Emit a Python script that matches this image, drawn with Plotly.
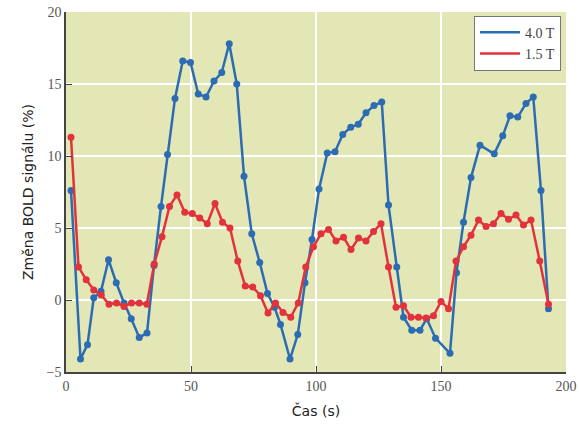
import plotly.graph_objects as go

# time axis (s)
t_red = [2, 5, 8.1, 11.1, 14.1, 17.2, 20.2, 23.2, 26.2, 29.3, 32.3, 35.3, 38.4, 41.4, 44.4, 47.5,
         50.5, 53.5, 56.5, 59.6, 62.6, 65.6, 68.7, 71.7, 74.7, 77.8, 80.8, 83.8, 86.8, 89.9, 92.9, 95.9,
         99, 102, 105, 108, 111, 114, 117, 120, 123, 126, 129, 132, 135, 138, 141, 144,
         147, 150, 153, 156, 159, 162, 165, 168, 171, 174, 177, 180, 183, 186, 189.5, 193]
sig_15T = [11.3, 2.3, 1.4, 0.7, 0.35, -0.3, -0.2, -0.45, -0.2, -0.2, -0.3, 2.5, 4.4, 6.5, 7.3, 6.1,
           6.0, 5.7, 5.3, 6.7, 5.4, 5.0, 2.7, 0.97, 0.9, 0.3, -0.9, -0.2, -0.86, -1.2, -0.2, 2.3,
           3.7, 4.6, 4.9, 4.1, 4.35, 3.5, 4.3, 4.1, 4.75, 5.3, 2.3, -0.5, -0.4, -1.2, -1.2, -1.25,
           -1.1, -0.1, -0.6, 2.7, 3.7, 4.5, 5.55, 5.1, 5.3, 6.0, 5.6, 5.9, 5.2, 5.55, 2.7, -0.3]

t_blue = [2, 5.8, 8.6, 11.1, 14, 17, 20.1, 23.2, 26.1, 29.3, 32.4, 35.2, 38, 40.6, 43.6, 46.7,
          49.8, 52.9, 56, 59.2, 62.3, 65.3, 68.3, 71.2, 74.3, 77.5, 80.6, 83.4, 85.8, 89.6, 92.7, 95.6,
          98.4, 101.2, 104.5, 107.6, 110.7, 113.9, 116.9, 120, 123.2, 126.3, 129, 132.3, 135, 138.3, 141.6, 144.3,
          147.8, 153.6, 156.2, 159, 162, 165.6, 171.3, 174.7, 177.6, 180.7, 184, 186.9, 190, 193]
sig_40T = [7.6, -4.1, -3.1, 0.15, 0.6, 2.8, 1.2, -0.2, -1.3, -2.6, -2.3, 2.4, 6.5, 10.1, 14.0, 16.6,
           16.5, 14.3, 14.1, 15.2, 15.8, 17.8, 15.0, 8.6, 4.6, 2.6, 0.45, -0.5, -1.7, -4.1, -2.4, 1.2,
           4.2, 7.7, 10.2, 10.3, 11.5, 12.0, 12.2, 13.0, 13.5, 13.75, 6.6, 2.3, -1.2, -2.1, -2.1, -1.3,
           -2.65, -3.7, 1.9, 5.4, 8.5, 10.75, 10.15, 11.4, 12.8, 12.7, 13.65, 14.1, 7.6, -0.6]

x_ticks = [0, 50, 100, 150, 200]
y_ticks = [-5, 0, 5, 10, 15, 20]

BLUE = "#2b6cb3"
RED = "#e2323c"

fig = go.Figure()
fig.add_trace(go.Scatter(x=t_blue, y=sig_40T, mode="lines+markers", showlegend=False,
                         line=dict(color=BLUE, width=2.5), marker=dict(color=BLUE, size=7)))
fig.add_trace(go.Scatter(x=t_red, y=sig_15T, mode="lines+markers", showlegend=False,
                         line=dict(color=RED, width=2.5), marker=dict(color=RED, size=7)))
fig.add_trace(go.Scatter(x=[None], y=[None], mode="lines", name="4.0 T",
                         line=dict(color=BLUE, width=2.5)))
fig.add_trace(go.Scatter(x=[None], y=[None], mode="lines", name="1.5 T",
                         line=dict(color=RED, width=2.5)))

tickfont = dict(family="Liberation Serif", size=14, color="#555555")
titlefont = dict(family="DejaVu Sans", size=14, color="#222222")

fig.update_layout(
    width=579, height=425,
    margin=dict(l=66, r=13, t=12, b=53),
    paper_bgcolor="white",
    plot_bgcolor="#e3e7b6",
    legend=dict(x=0.99, y=0.99, xanchor="right", yanchor="top",
                bgcolor="white", bordercolor="#777777", borderwidth=1,
                font=dict(family="Liberation Serif", size=14, color="#444444"),
                itemwidth=40, tracegroupgap=0),
    xaxis=dict(range=[0, 200], tickvals=x_ticks, showgrid=True, gridcolor="white", gridwidth=1.5,
               zeroline=False, showline=True, linecolor="#444444", linewidth=1.5, automargin=False,
               ticks="inside", ticklen=6, tickcolor="#444444", tickfont=tickfont,
               title=dict(text="Čas (s)", font=titlefont, standoff=14)),
    yaxis=dict(range=[-5, 20], tickvals=y_ticks, showgrid=True, gridcolor="white", gridwidth=1.5,
               zeroline=False, showline=True, linecolor="#444444", linewidth=1.5, automargin=False,
               ticks="inside", ticklen=6, tickcolor="#444444", tickfont=tickfont,
               title=dict(text="Změna BOLD signálu (%)", font=titlefont, standoff=10)),
)

fig.write_html("out.html")
